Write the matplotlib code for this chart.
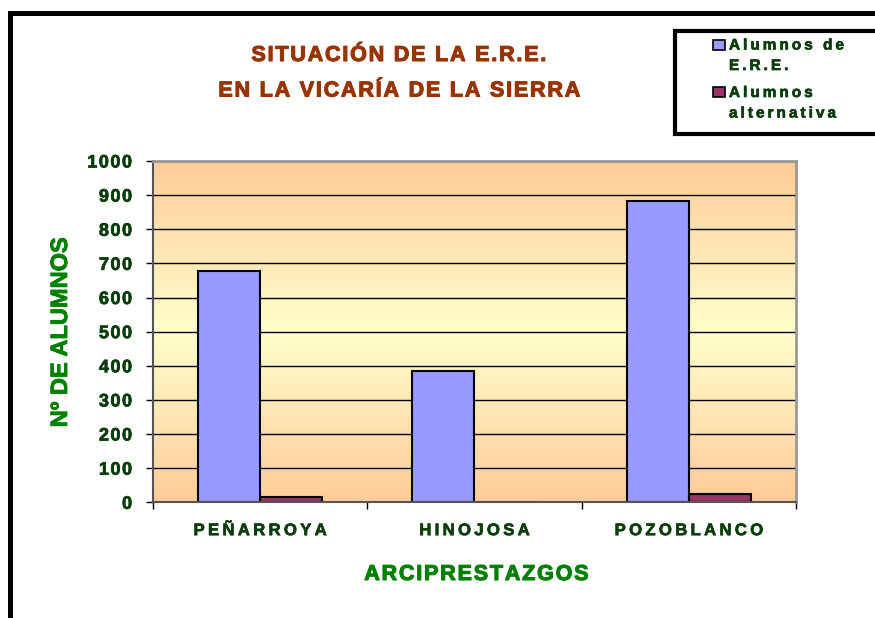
import numpy as np
import matplotlib
matplotlib.use("Agg")
import matplotlib.pyplot as plt
import matplotlib.patheffects as pe
from matplotlib.colors import LinearSegmentedColormap
from matplotlib.patches import Rectangle

categories = ["PEÑARROYA", "HINOJOSA", "POZOBLANCO"]
alumnos_ere = [677, 385, 882]
alumnos_alt = [16, 0, 24]
series_names = ["Alumnos de\nE.R.E.", "Alumnos\nalternativa"]
yticks = list(range(0, 1001, 100))

TH = "\u2009"   # thin space
HS = "\u200a"   # hair space

def spaced(s, sp):
    return "\n".join(sp.join(list(line)) for line in s.split("\n"))

def heavy(color, lw=0.7):
    return [pe.withStroke(linewidth=lw, foreground=color)]

FAM = ["Liberation Sans", "DejaVu Sans"]
plt.rcParams["font.family"] = FAM

W, H = 875, 618
fig = plt.figure(figsize=(W / 100, H / 100), dpi=100)

def fx(px):
    return px / W

def fy(py):
    return 1 - py / H

ax = fig.add_axes([fx(153), fy(502.3), fx(796) - fx(153), fy(161) - fy(502.3)])

# gradient background
cmap = LinearSegmentedColormap.from_list(
    "bg", [(0.0, "#FFCC99"), (0.5, "#FFFFCC"), (1.0, "#FFCC99")])
grad = np.linspace(0, 1, 256).reshape(-1, 1)
ax.imshow(grad, extent=[0, 1, 0, 1], transform=ax.transAxes, cmap=cmap,
          aspect="auto", origin="lower", zorder=0, interpolation="bilinear")
ax.patch.set_facecolor("none")

x = np.arange(len(categories))
bw = 0.29
ax.bar(x - bw, alumnos_ere, width=bw, align="edge", color="#9999FF",
       edgecolor="black", linewidth=1.5, zorder=2)
ax.bar(x, alumnos_alt, width=bw, align="edge", color="#993366",
       edgecolor="black", linewidth=1.5, zorder=2)

TICKC = "#0B3D0B"
ax.set_xlim(-0.5, len(categories) - 0.5)
ax.set_ylim(0, 1000)
ax.set_yticks(yticks)
ax.set_yticklabels([spaced(str(v), HS) for v in yticks], fontsize=13,
                   fontweight="bold", color=TICKC)
ax.set_xticks(x)
ax.set_xticklabels([spaced(c, TH) for c in categories], fontsize=12,
                   fontweight="bold", color=TICKC)
for t in ax.get_yticklabels() + ax.get_xticklabels():
    t.set_path_effects(heavy(TICKC, 0.5))
ax.set_xticks(np.arange(-0.5, len(categories)), minor=True)
ax.tick_params(axis="x", which="major", length=0, pad=15)
ax.tick_params(axis="x", which="minor", length=5, width=1, color="black",
               direction="out")
ax.tick_params(axis="y", length=5, width=1, color="black", direction="out",
               pad=10)

ax.yaxis.grid(True, color="black", linewidth=1.0, zorder=1)
ax.set_axisbelow(True)
for lbl in ax.get_ygridlines():
    lbl.set_zorder(1)

for side in ["left", "bottom"]:
    ax.spines[side].set_color("#555555")
    ax.spines[side].set_linewidth(1.5)
for side in ["top", "right"]:
    ax.spines[side].set_color("#999999")
    ax.spines[side].set_linewidth(2)

# titles
TITC = "#993300"
fig.text(fx(398), fy(61), spaced("SITUACIÓN DE LA E.R.E.", HS), ha="center",
         va="baseline", fontsize=15.5, fontweight="bold", color=TITC,
         path_effects=heavy(TITC, 0.8))
fig.text(fx(398), fy(96.5), spaced("EN LA VICARÍA DE LA SIERRA", HS), ha="center",
         va="baseline", fontsize=15.5, fontweight="bold", color=TITC,
         path_effects=heavy(TITC, 0.8))

LABC = "#008000"
fig.text(fx(67), fy(332), "Nº DE ALUMNOS", rotation=90, rotation_mode="anchor",
         ha="center", va="baseline", fontsize=17, fontweight="bold",
         color=LABC, path_effects=heavy(LABC, 0.6))
fig.text(fx(475.5), fy(580), spaced("ARCIPRESTAZGOS", HS), ha="center",
         va="baseline", fontsize=15.5, fontweight="bold", color=LABC,
         path_effects=heavy(LABC, 0.8))

# figure frame (cut at right and bottom)
fig.patches.append(Rectangle((fx(9.5), fy(700)), 2, fy(13.5) - fy(700),
                             transform=fig.transFigure, fill=False,
                             edgecolor="black", linewidth=3.6, zorder=5))

# legend box
fig.patches.append(Rectangle((fx(675), fy(134)), 1, fy(31) - fy(134),
                             transform=fig.transFigure, facecolor="white",
                             edgecolor="black", linewidth=3, zorder=5))
leg_colors = ["#9999FF", "#993366"]
leg_sq_top = [39.5, 86.5]
leg_text_base = [49.5, 97]
for name, col, sq, tb in zip(series_names, leg_colors, leg_sq_top, leg_text_base):
    fig.patches.append(Rectangle((fx(712.5), fy(sq + 10.5)), fx(12),
                                 fy(sq) - fy(sq + 10.5),
                                 transform=fig.transFigure, facecolor=col,
                                 edgecolor="black", linewidth=1.2, zorder=6))
    lines = name.split("\n")
    for k, ln in enumerate(lines):
        fig.text(fx(729), fy(tb + k * 20.5), spaced(ln, TH), ha="left",
                 va="baseline", fontsize=11, fontweight="bold",
                 color=TICKC, zorder=7, path_effects=heavy(TICKC, 0.5))

fig.savefig("out.png", dpi=100)
